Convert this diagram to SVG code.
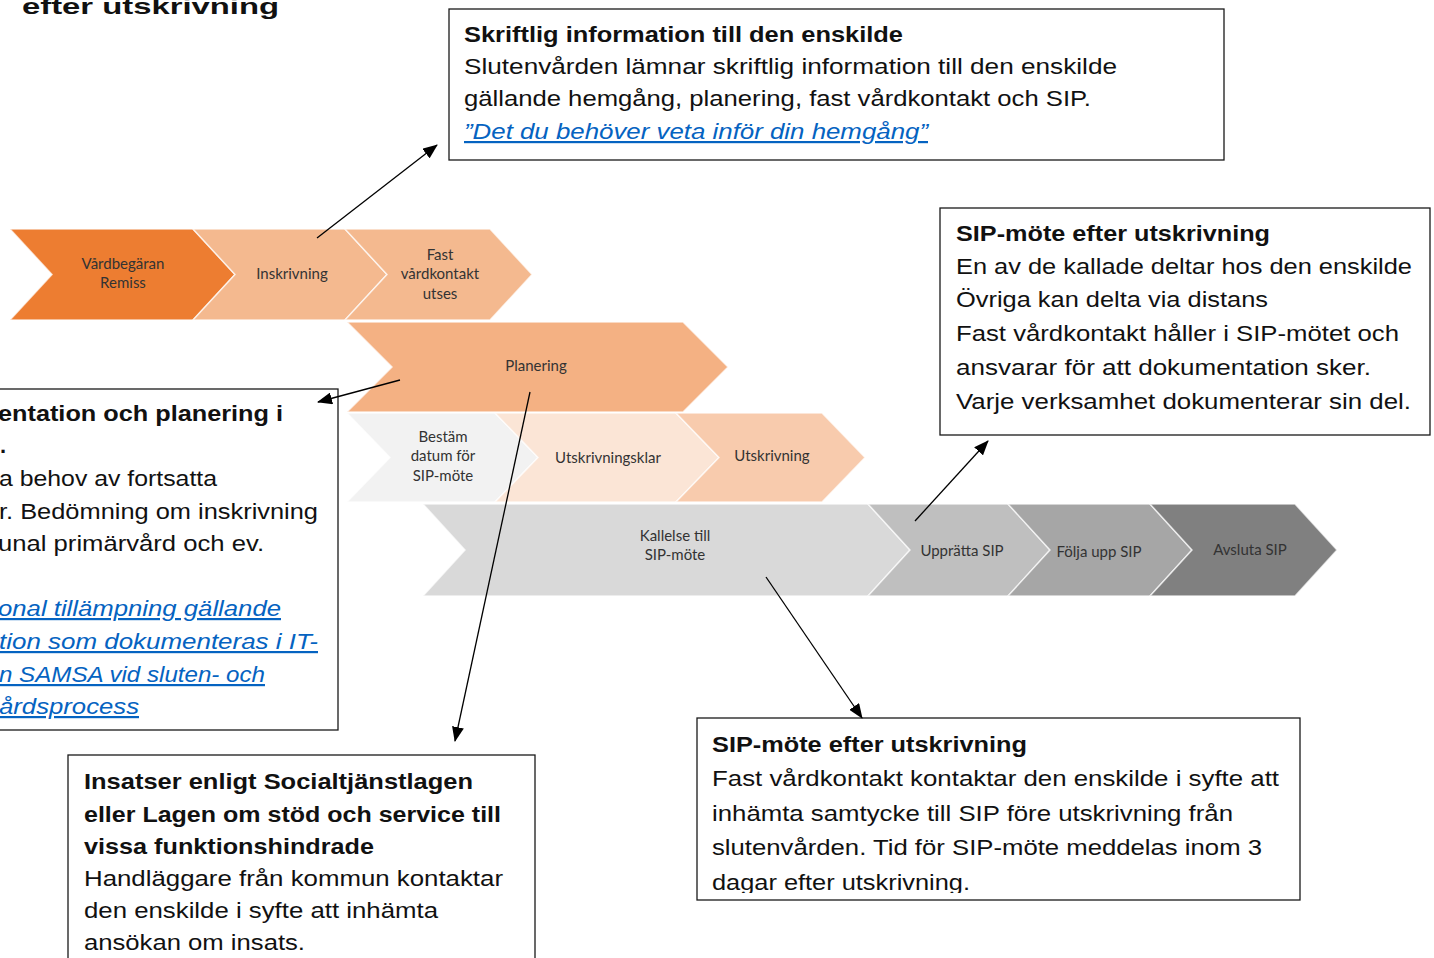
<svg xmlns="http://www.w3.org/2000/svg" width="1434" height="958" viewBox="0 0 1434 958">
  <style>
    .box { fill: #ffffff; stroke: #1a1a1a; stroke-width: 1.3; }
    .t { font-family: "Liberation Sans", Arial, sans-serif; font-size: 22px; fill: #111111; }
    .b { font-weight: bold; }
    .link { fill: #0563C1; font-style: italic; text-decoration: underline; }
    .chev { stroke: #ffffff; stroke-width: 1.5; stroke-opacity: 0.7; }
    .ct { font-family: Lato, "Open Sans", sans-serif; font-size: 15px; fill: #333333; text-anchor: middle; }
    .conn { stroke: #000000; stroke-width: 1.3; fill: none; marker-end: url(#arrow); }
  </style>
  <defs>
    <marker id="arrow" viewBox="0 0 15 12" refX="14" refY="6" markerWidth="15" markerHeight="12" markerUnits="userSpaceOnUse" orient="auto">
      <path d="M0,0 L15,6 L0,12 z" fill="#000000"/>
    </marker>
    <clipPath id="clipSipBottom">
      <rect x="697" y="718" width="603" height="175"/>
    </clipPath>
  </defs>

  <rect width="1434" height="958" fill="#ffffff"/>

  <!-- heading, running past the top edge -->
  <text class="t b" x="22" y="14" font-size="30" textLength="257" lengthAdjust="spacingAndGlyphs">efter utskrivning</text>

  <!-- process chevrons -->
  <g id="chevrons">
    <g id="vardbegaran">
      <polygon class="chev" fill="#ED7D31" points="10,229 193,229 235,274.5 193,320 10,320 52,274.5"/>
      <text class="ct" x="123" y="269">Vårdbegäran</text>
      <text class="ct" x="123" y="288">Remiss</text>
    </g>
    <g id="inskrivning">
      <polygon class="chev" fill="#F4B98F" points="193,229 345,229 387,274.5 345,320 193,320 235,274.5"/>
      <text class="ct" x="292" y="279">Inskrivning</text>
    </g>
    <g id="fast-vardkontakt">
      <polygon class="chev" fill="#F4B98F" points="345,229 490,229 532,274.5 490,320 345,320 387,274.5"/>
      <text class="ct" x="440" y="260">Fast</text>
      <text class="ct" x="440" y="279">vårdkontakt</text>
      <text class="ct" x="440" y="299">utses</text>
    </g>
    <g id="planering">
      <polygon class="chev" fill="#F4B183" points="347,322 683,322 728,367 683,412 347,412 392,367"/>
      <text class="ct" x="536" y="371">Planering</text>
    </g>
    <g id="bestam-datum">
      <polygon class="chev" fill="#F2F2F2" points="347,413 495,413 538,457.5 495,502 347,502 390,457.5"/>
      <text class="ct" x="443" y="442">Bestäm</text>
      <text class="ct" x="443" y="461">datum för</text>
      <text class="ct" x="443" y="481">SIP-möte</text>
    </g>
    <g id="utskrivningsklar">
      <polygon class="chev" fill="#FBE5D6" points="495,413 676,413 719,457.5 676,502 495,502 538,457.5"/>
      <text class="ct" x="608" y="463">Utskrivningsklar</text>
    </g>
    <g id="utskrivning">
      <polygon class="chev" fill="#F8CBAD" points="676,413 822,413 865,457.5 822,502 676,502 719,457.5"/>
      <text class="ct" x="772" y="461">Utskrivning</text>
    </g>
    <g id="kallelse">
      <polygon class="chev" fill="#D9D9D9" points="423,504 868,504 910,550 868,596 423,596 465,550"/>
      <text class="ct" x="675" y="541">Kallelse till</text>
      <text class="ct" x="675" y="560">SIP-möte</text>
    </g>
    <g id="uppratta-sip">
      <polygon class="chev" fill="#BFBFBF" points="868,504 1008,504 1050,550 1008,596 868,596 910,550"/>
      <text class="ct" x="962" y="556">Upprätta SIP</text>
    </g>
    <g id="folja-upp-sip">
      <polygon class="chev" fill="#A6A6A6" points="1008,504 1150,504 1192,550 1150,596 1008,596 1050,550"/>
      <text class="ct" x="1099" y="557">Följa upp SIP</text>
    </g>
    <g id="avsluta-sip">
      <polygon class="chev" fill="#808080" points="1150,504 1295,504 1337,550 1295,596 1150,596 1192,550"/>
      <text class="ct" x="1250" y="555">Avsluta SIP</text>
    </g>
  </g>

  <!-- written information box -->
  <g id="skriftlig-information">
    <rect class="box" x="449" y="9" width="775" height="151"/>
    <text class="t b" x="464" y="42" font-size="23" textLength="439" lengthAdjust="spacingAndGlyphs">Skriftlig information till den enskilde</text>
    <text class="t" x="464" y="74" font-size="23" textLength="653" lengthAdjust="spacingAndGlyphs">Slutenvården lämnar skriftlig information till den enskilde</text>
    <text class="t" x="464" y="106" font-size="23" textLength="627" lengthAdjust="spacingAndGlyphs">gällande hemgång, planering, fast vårdkontakt och SIP.</text>
    <text class="t link" x="464" y="139" font-size="23" textLength="464" lengthAdjust="spacingAndGlyphs">”Det du behöver veta inför din hemgång”</text>
  </g>

  <!-- SIP meeting after discharge (right) -->
  <g id="sip-mote-hoger">
    <rect class="box" x="940" y="208" width="490" height="227"/>
    <text class="t b" x="956" y="241" textLength="314" lengthAdjust="spacingAndGlyphs">SIP-möte efter utskrivning</text>
    <text class="t" x="956" y="274" textLength="456" lengthAdjust="spacingAndGlyphs">En av de kallade deltar hos den enskilde</text>
    <text class="t" x="956" y="307" textLength="312" lengthAdjust="spacingAndGlyphs">Övriga kan delta via distans</text>
    <text class="t" x="956" y="341" textLength="443" lengthAdjust="spacingAndGlyphs">Fast vårdkontakt håller i SIP-mötet och</text>
    <text class="t" x="956" y="375" textLength="415" lengthAdjust="spacingAndGlyphs">ansvarar för att dokumentation sker.</text>
    <text class="t" x="956" y="409" textLength="455" lengthAdjust="spacingAndGlyphs">Varje verksamhet dokumenterar sin del.</text>
  </g>

  <!-- documentation and planning box, running past the left edge -->
  <g id="dokumentation">
    <rect class="box" x="-2" y="389" width="340" height="341"/>
    <text class="t b" x="-2" y="421" textLength="285" lengthAdjust="spacingAndGlyphs">entation och planering i</text>
    <text class="t b" x="0" y="453">.</text>
    <text class="t" x="-1" y="486" textLength="218" lengthAdjust="spacingAndGlyphs">a behov av fortsatta</text>
    <text class="t" x="-1" y="519" textLength="319" lengthAdjust="spacingAndGlyphs">r. Bedömning om inskrivning</text>
    <text class="t" x="-2" y="551" textLength="266" lengthAdjust="spacingAndGlyphs">unal primärvård och ev.</text>
    <text class="t link" x="-2" y="616" textLength="283" lengthAdjust="spacingAndGlyphs">onal tillämpning gällande</text>
    <text class="t link" x="-1" y="649" textLength="319" lengthAdjust="spacingAndGlyphs">tion som dokumenteras i IT-</text>
    <text class="t link" x="-1" y="682" textLength="266" lengthAdjust="spacingAndGlyphs">n SAMSA vid sluten- och</text>
    <text class="t link" x="-1" y="714" textLength="140" lengthAdjust="spacingAndGlyphs">årdsprocess</text>
  </g>

  <!-- social services box -->
  <g id="insatser">
    <rect class="box" x="68" y="755" width="467" height="220"/>
    <text class="t b" x="84" y="789" textLength="389" lengthAdjust="spacingAndGlyphs">Insatser enligt Socialtjänstlagen</text>
    <text class="t b" x="84" y="822" textLength="417" lengthAdjust="spacingAndGlyphs">eller Lagen om stöd och service till</text>
    <text class="t b" x="84" y="854" textLength="290" lengthAdjust="spacingAndGlyphs">vissa funktionshindrade</text>
    <text class="t" x="84" y="886" textLength="419" lengthAdjust="spacingAndGlyphs">Handläggare från kommun kontaktar</text>
    <text class="t" x="84" y="918" textLength="354" lengthAdjust="spacingAndGlyphs">den enskilde i syfte att inhämta</text>
    <text class="t" x="84" y="950" textLength="221" lengthAdjust="spacingAndGlyphs">ansökan om insats.</text>
  </g>

  <!-- SIP meeting after discharge (bottom) -->
  <g id="sip-mote-nedre">
    <rect class="box" x="697" y="718" width="603" height="182"/>
    <g clip-path="url(#clipSipBottom)">
      <text class="t b" x="712" y="752" font-size="24" textLength="315" lengthAdjust="spacingAndGlyphs">SIP-möte efter utskrivning</text>
      <text class="t" x="712" y="786" font-size="24" textLength="567" lengthAdjust="spacingAndGlyphs">Fast vårdkontakt kontaktar den enskilde i syfte att</text>
      <text class="t" x="712" y="821" font-size="24" textLength="521" lengthAdjust="spacingAndGlyphs">inhämta samtycke till SIP före utskrivning från</text>
      <text class="t" x="712" y="855" font-size="24" textLength="550" lengthAdjust="spacingAndGlyphs">slutenvården. Tid för SIP-möte meddelas inom 3</text>
      <text class="t" x="712" y="890" font-size="24" textLength="258" lengthAdjust="spacingAndGlyphs">dagar efter utskrivning.</text>
    </g>
  </g>

  <!-- connectors -->
  <g id="connectors">
    <line class="conn" x1="317" y1="238" x2="437" y2="145"/>
    <line class="conn" x1="400" y1="380" x2="318" y2="402"/>
    <line class="conn" x1="530" y1="392" x2="455" y2="741"/>
    <line class="conn" x1="766" y1="577" x2="862" y2="718"/>
    <line class="conn" x1="915" y1="521" x2="988" y2="441"/>
  </g>
</svg>
